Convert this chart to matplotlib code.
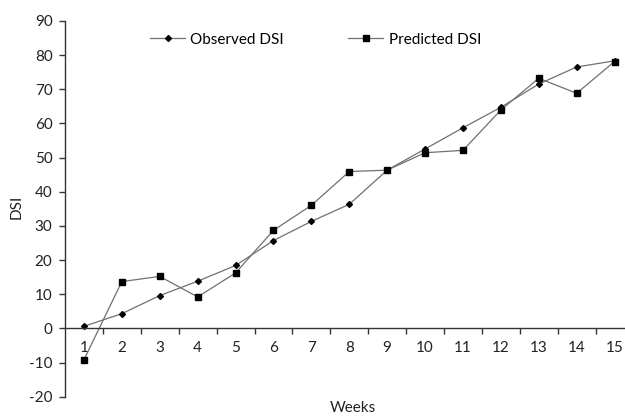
import matplotlib
matplotlib.use("Agg")
import matplotlib.pyplot as plt
from matplotlib.ticker import FixedLocator

weeks = list(range(1, 16))
observed = [0.6, 4.3, 9.6, 13.8, 18.4, 25.7, 31.3, 36.3, 46.3, 52.5, 58.7, 64.7, 71.5, 76.5, 78.3]
predicted = [-9.2, 13.7, 15.2, 9.2, 16.2, 28.7, 36.0, 45.9, 46.3, 51.4, 52.1, 63.9, 73.2, 68.8, 78.1]
week_labels = [str(w) for w in weeks]
y_ticks = list(range(-20, 100, 10))

plt.rcParams['font.family'] = ['Lato', 'DejaVu Sans']
fs = 11
line_color = '#707070'
axis_color = '#333333'
text_color = '#222222'

fig = plt.figure(figsize=(6.25, 4.17), dpi=100)
# right edge of the category axis runs past the figure edge, as in the original
ax = fig.add_axes([0.104, 0.0487, 0.9096, 0.9013])

ax.plot(weeks, observed, color=line_color, linewidth=0.9, marker='D',
        markersize=3.0, markerfacecolor='black', markeredgecolor='black',
        label='Observed DSI')
ax.plot(weeks, predicted, color=line_color, linewidth=0.9, marker='s',
        markersize=4.5, markerfacecolor='black', markeredgecolor='black',
        label='Predicted DSI')

ax.set_xlim(0.5, 15.5)
ax.set_ylim(-20, 90)

# x axis sits at y = 0, tick marks between categories
ax.spines['bottom'].set_position(('data', 0))
ax.spines['top'].set_visible(False)
ax.spines['right'].set_visible(False)
for s in ['left', 'bottom']:
    ax.spines[s].set_color(axis_color)
    ax.spines[s].set_linewidth(1.0)

ax.set_xticks(weeks)
ax.set_xticklabels(week_labels, fontsize=fs, color=text_color)
ax.xaxis.set_minor_locator(FixedLocator([w + 0.5 for w in weeks[:-1]]))
ax.tick_params(axis='x', which='major', length=0, pad=9)
ax.tick_params(axis='x', which='minor', length=4, width=1.0, color=axis_color, direction='out')

ax.set_yticks(y_ticks)
ax.set_yticklabels([str(v) for v in y_ticks], fontsize=fs, color=text_color)
ax.tick_params(axis='y', length=4, width=1.0, color=axis_color, direction='out', pad=5)

ax.set_xlabel('Weeks', fontsize=fs, color=text_color)
ax.xaxis.set_label_coords(0.507, -0.012)
fig.text(17 / 625, (417 - 207) / 417, 'DSI', rotation=90, fontsize=fs,
         color=text_color, ha='center', va='center')

ax.legend(loc='upper left', bbox_to_anchor=(150 / 625, 0.922),
          bbox_transform=fig.transFigure, ncol=2, frameon=False,
          fontsize=fs, handlelength=2.3, handletextpad=0.35,
          columnspacing=4.2, borderpad=0, borderaxespad=0)

fig.savefig('out.png', dpi=100)
